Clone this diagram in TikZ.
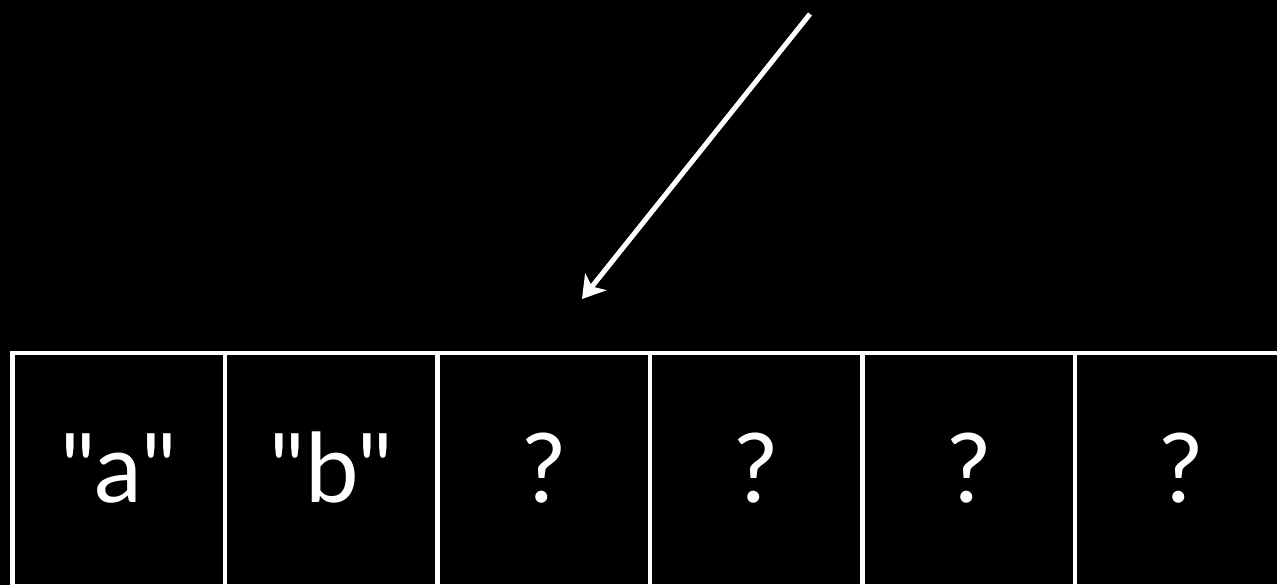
\documentclass[tikz,border=0pt]{standalone}
\usepackage{fontspec}
\setmainfont{Lato}[Ligatures=TeXOff]
\usetikzlibrary{arrows.meta}
\begin{document}
\begin{tikzpicture}[x=1pt,y=-1pt,
  cell/.style={draw=white, line width=4.5pt, minimum width=212.5pt, minimum height=233pt,
    inner sep=0pt, outer sep=0pt, text=white, font=\fontsize{96}{96}\selectfont,
    text height=65pt, text depth=0pt, anchor=north west},
  ptr/.style={draw=white, line width=5pt, -{Stealth[length=22pt,width=27pt,inset=6pt]}}]
\fill[black] (0,0) rectangle (1277,585);
\useasboundingbox (0,0) rectangle (1277,585);
\node[cell] (c1) at (12.5,353) {"a"};
\node[cell] (c2) at (225,353) {"b"};
\node[cell] (c3) at (437.5,353) {?};
\node[cell] (c4) at (650,353) {?};
\node[cell] (c5) at (862.5,353) {?};
\node[cell] (c6) at (1075,353) {?};
\coordinate (s) at (810,14);
\coordinate (t) at (582,299);
\draw[ptr] (s) -- (t);
\end{tikzpicture}
\end{document}
